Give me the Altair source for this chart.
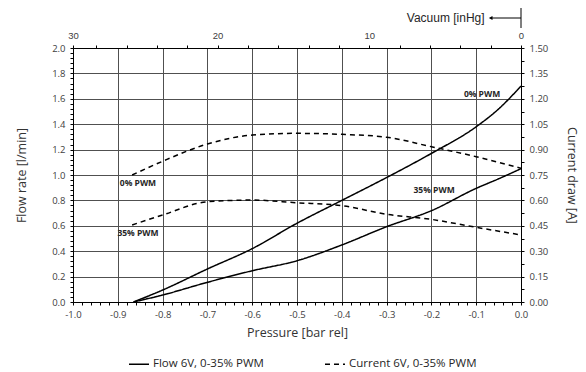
import altair as alt
import numpy as np
import pandas as pd

# ---- data ----
pressure_flow = [-0.865, -0.8, -0.7, -0.6, -0.5, -0.4, -0.3, -0.2, -0.1, -0.05, 0.0]
flow_0pwm = [0.0, 0.094, 0.26, 0.42, 0.62, 0.80, 0.98, 1.17, 1.38, 1.52, 1.70]
flow_35pwm = [0.0, 0.055, 0.155, 0.246, 0.325, 0.449, 0.593, 0.719, 0.895, 0.97, 1.05]

pressure_current = [-0.868, -0.8, -0.7, -0.6, -0.5, -0.4, -0.3, -0.2, -0.1, 0.0]
current_0pwm = [0.75, 0.831, 0.933, 0.986, 0.996, 0.99, 0.973, 0.917, 0.858, 0.79]
current_35pwm = [0.455, 0.514, 0.592, 0.602, 0.586, 0.569, 0.518, 0.488, 0.441, 0.396]

label_text = ["0% PWM", "35% PWM", "0% PWM", "35% PWM"]
label_pressure = [-0.855, -0.855, -0.087, -0.194]
label_flow = [0.937, 0.543, 1.638, 0.882]

flow_name = "Flow 6V, 0-35% PWM"
current_name = "Current 6V, 0-35% PWM"

x_ticks = [round(v, 2) for v in np.arange(-1.0, 0.0001, 0.02)]
y_ticks = [round(v, 2) for v in np.arange(0.0, 2.0001, 0.04)]
y2_ticks = [round(v, 3) for v in np.arange(0.0, 1.5001, 0.075)]
vac_max = 29.53  # 1 bar in inHg
vac_ticks = list(range(0, 29, 2)) + [vac_max]

# ---- tables ----
flow_df = pd.concat([
    pd.DataFrame({"pressure": pressure_flow, "value": flow_0pwm, "curve": "0%", "series": flow_name}),
    pd.DataFrame({"pressure": pressure_flow, "value": flow_35pwm, "curve": "35%", "series": flow_name}),
])
current_df = pd.concat([
    pd.DataFrame({"pressure": pressure_current, "value": current_0pwm, "curve": "0%", "series": current_name}),
    pd.DataFrame({"pressure": pressure_current, "value": current_35pwm, "curve": "35%", "series": current_name}),
])
labels_df = pd.DataFrame({"pressure": label_pressure, "value": label_flow, "text": label_text})

FONT = "Open Sans"
LABEL_COLOR = "#404040"
TITLE_COLOR = "#333333"
GRID_COLOR = "#505050"
TITLE_SIZE = 12.5

x_scale = alt.Scale(domain=[-1.0, 0.0], nice=False, zero=False)

x_axis = alt.Axis(
    orient="bottom", values=x_ticks, title="Pressure [bar rel]",
    labelExpr="abs(datum.value*10 - round(datum.value*10)) < 1e-6 ? ((datum.value < -1e-9 ? '-' : '') + format(abs(datum.value), '.1f')) : ''",
    gridOpacity={"condition": {"test": "abs(datum.value*10 - round(datum.value*10)) < 1e-6", "value": 1}, "value": 0},
    grid=True, gridColor=GRID_COLOR, gridWidth=1,
    tickSize=3, tickColor="black", labelPadding=4, labelFlush=False, labelOverlap=False,
    labelFont=FONT, labelFontSize=9.5, labelColor=LABEL_COLOR,
    titleFont=FONT, titleFontSize=TITLE_SIZE, titleFontWeight="normal", titleColor=TITLE_COLOR, titlePadding=8,
    domainColor="black",
)
y_axis = alt.Axis(
    orient="left", values=y_ticks, title="Flow rate [l/min]",
    labelExpr="abs(datum.value*5 - round(datum.value*5)) < 1e-6 ? format(datum.value, '.1f') : ''",
    gridOpacity={"condition": {"test": "abs(datum.value*5 - round(datum.value*5)) < 1e-6", "value": 1}, "value": 0},
    grid=True, gridColor=GRID_COLOR, gridWidth=1,
    tickSize=3, tickColor="black", labelPadding=5, labelFlush=False, labelOverlap=False,
    labelFont=FONT, labelFontSize=9.5, labelColor=LABEL_COLOR,
    titleFont=FONT, titleFontSize=TITLE_SIZE, titleFontWeight="normal", titleColor=TITLE_COLOR, titlePadding=23,
    domainColor="black",
)
y2_axis = alt.Axis(
    orient="right", values=y2_ticks, title="Current draw [A]",
    labelExpr="abs(datum.value/0.15 - round(datum.value/0.15)) < 1e-6 ? format(datum.value, '.2f') : ''",
    grid=False,
    tickSize=3, tickColor="black", labelPadding=5, labelFlush=False, labelOverlap=False,
    labelFont=FONT, labelFontSize=9.5, labelColor=LABEL_COLOR,
    titleFont=FONT, titleFontSize=TITLE_SIZE, titleFontWeight="normal", titleColor=TITLE_COLOR, titlePadding=17,
    domainColor="black",
)
vac_axis = alt.Axis(
    orient="top", values=vac_ticks, title=None,
    labelExpr="datum.value > 29 ? '30' : (datum.value % 10 == 0 ? format(datum.value, 'd') : '')",
    grid=False, tickSize=3, tickColor="black", labelPadding=5, labelFlush=False, labelOverlap=False,
    labelFont="Liberation Sans", labelFontSize=9.5, labelColor=LABEL_COLOR,
    domainColor="black",
)
vac_scale = alt.Scale(domain=[0, vac_max], reverse=True, nice=False, zero=False)

dash_scale = alt.Scale(domain=[flow_name, current_name], range=[[1, 0], [5, 4]])
legend = alt.Legend(
    orient="none", legendX=55, legendY=305, direction="horizontal", title=None,
    symbolType="stroke", symbolSize=400, symbolStrokeWidth=1.5, symbolStrokeColor="black",
    labelFont=FONT, labelFontSize=11.5, labelColor="#262626", labelOffset=3,
    columnPadding=58, padding=0,
)

flow_lines = alt.Chart(flow_df).mark_line(color="black", strokeWidth=1.5, interpolate="monotone").encode(
    x=alt.X("pressure:Q", scale=x_scale, axis=x_axis),
    y=alt.Y("value:Q", scale=alt.Scale(domain=[0, 2], nice=False), axis=y_axis),
    strokeDash=alt.StrokeDash("series:N", scale=dash_scale, legend=legend),
    detail="curve:N",
)
flow_labels = alt.Chart(labels_df).mark_text(
    font=FONT, fontSize=8.5, fontWeight="bold", color="#262626", align="center", baseline="middle"
).encode(
    x=alt.X("pressure:Q", scale=x_scale, axis=x_axis),
    y=alt.Y("value:Q", scale=alt.Scale(domain=[0, 2], nice=False), axis=y_axis),
    text="text:N",
)
flow_layer = alt.layer(flow_lines, flow_labels)

current_lines = alt.Chart(current_df).mark_line(color="black", strokeWidth=1.5, interpolate="monotone").encode(
    x=alt.X("pressure:Q", scale=x_scale, axis=None),
    y=alt.Y("value:Q", scale=alt.Scale(domain=[0, 1.5], nice=False), axis=y2_axis),
    strokeDash=alt.StrokeDash("series:N", scale=dash_scale, legend=legend),
    detail="curve:N",
)

# vacuum axis with title and arrow
arrow_df = pd.DataFrame({"v0": [0.0], "v1": [2.0]})
arrow_line = alt.Chart(arrow_df).mark_rule(color="black", strokeWidth=1).encode(
    x=alt.X("v0:Q", scale=vac_scale, axis=vac_axis), x2="v1:Q", y=alt.value(-30)
)
arrow_bar = alt.Chart(arrow_df).mark_rule(color="black", strokeWidth=1).encode(
    x=alt.X("v0:Q", scale=vac_scale, axis=vac_axis), y=alt.value(-40), y2=alt.value(-20)
)
arrow_head = alt.Chart(arrow_df).mark_point(shape="triangle-left", filled=True, color="black", size=18, opacity=1).encode(
    x=alt.X("v1:Q", scale=vac_scale, axis=vac_axis), y=alt.value(-30)
)
arrow_text = alt.Chart(pd.DataFrame({"v": [2.4], "t": ["Vacuum [inHg]"]})).mark_text(
    font="Liberation Sans", fontSize=12, color="#262626", align="right", baseline="middle"
).encode(
    x=alt.X("v:Q", scale=vac_scale, axis=vac_axis), y=alt.value(-30), text="t:N"
)
vac_layer = alt.layer(arrow_line, arrow_bar, arrow_head, arrow_text)

chart = alt.layer(flow_layer, current_lines, vac_layer).resolve_scale(
    x="independent", y="independent"
).properties(
    width=448, height=254,
    autosize=alt.AutoSizeParams(type="none"),
    padding={"left": 73, "top": 48, "right": 65, "bottom": 70},
).configure_view(stroke=None).configure(background="white")

chart.save("out.html", embed_options={"renderer": "svg", "actions": False})
